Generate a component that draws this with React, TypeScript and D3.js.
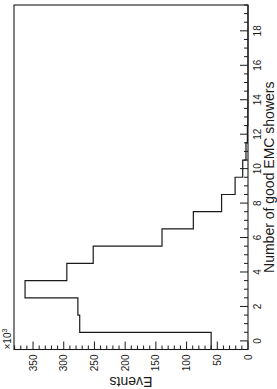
import React from "react";
import * as d3 from "d3";

// number of good EMC showers (bin centres) and events per bin, in units of 10^3
const showerBins = [0, 1, 2, 3, 4, 5, 6, 7, 8, 9, 10, 11, 12, 13, 14, 15, 16, 17, 18, 19];
const eventsK = [60, 274, 277, 363, 295, 252, 140, 89, 43, 21, 8.6, 3.3, 1.0, 0.3, 0.1, 0, 0, 0, 0, 0];
const eventTicks = [0, 50, 100, 150, 200, 250, 300, 350];
const showerTicks = [0, 2, 4, 6, 8, 10, 12, 14, 16, 18];

const W = 277;
const H = 389;
// the chart is laid out upright (H wide, W tall) and then turned a quarter anticlockwise
const frame = { left: 39.5, right: 384, top: 14, bottom: 248 };
const font = "'Liberation Sans', Arial, Helvetica, sans-serif";
const ink = "#1a1a1a";

export default function App() {
  const x = d3.scaleLinear().domain([-0.5, 19.5]).range([frame.left, frame.right]);
  const y = d3.scaleLinear().domain([0, 381]).range([frame.bottom, frame.top]);

  const pts: [number, number][] = [[-0.5, 0]];
  showerBins.forEach((b, i) => {
    pts.push([b - 0.5, eventsK[i]]);
    pts.push([b + 0.5, eventsK[i]]);
  });
  pts.push([19.5, 0]);
  const step = d3
    .line<[number, number]>()
    .x(d => x(d[0]))
    .y(d => y(d[1]));

  const minorY = d3.range(0, 381, 10);
  const minorX = d3.range(-0.5, 19.51, 0.5);

  return (
    <svg width={W} height={H} style={{ position: "absolute", left: 0, top: 0 }}>
      <rect width={W} height={H} fill="#fff" />
      <g transform={`translate(0,${H}) rotate(-90)`} fontFamily={font} fill={ink}>
        {/* histogram */}
        <path d={step(pts) || ""} fill="none" stroke={ink} strokeWidth={1.2} />

        {/* frame */}
        <rect
          x={frame.left}
          y={frame.top}
          width={frame.right - frame.left}
          height={frame.bottom - frame.top}
          fill="none"
          stroke={ink}
          strokeWidth={1.1}
        />

        {/* events axis ticks */}
        {minorY.map(v => (
          <line
            key={"my" + v}
            x1={frame.left}
            x2={frame.left + (v % 50 === 0 ? 8 : 4)}
            y1={y(v)}
            y2={y(v)}
            stroke={ink}
          />
        ))}
        {eventTicks.map(v => (
          <text key={"ty" + v} x={frame.left - 5} y={y(v)} dy="0.35em" textAnchor="end" fontSize={10}>
            {v}
          </text>
        ))}
        <text x={frame.left} y={11} fontSize={10}>
          ×10<tspan fontSize={7} dy={-4}>3</tspan>
        </text>
        <text
          transform={`translate(12,${(frame.top + frame.bottom) / 2}) rotate(-90)`}
          textAnchor="middle"
          fontSize={14}
        >
          Events
        </text>

        {/* showers axis ticks */}
        {minorX.map(v => (
          <line
            key={"mx" + v}
            x1={x(v)}
            x2={x(v)}
            y1={frame.bottom}
            y2={frame.bottom - (Math.abs(v % 2) < 1e-9 ? 8 : 4)}
            stroke={ink}
          />
        ))}
        {showerTicks.map(v => (
          <text key={"tx" + v} x={x(v)} y={261} textAnchor="middle" fontSize={10}>
            {v}
          </text>
        ))}
        <text x={(frame.left + frame.right) / 2} y={273.5} textAnchor="middle" fontSize={14}>
          Number of good EMC showers
        </text>
      </g>
    </svg>
  );
}
